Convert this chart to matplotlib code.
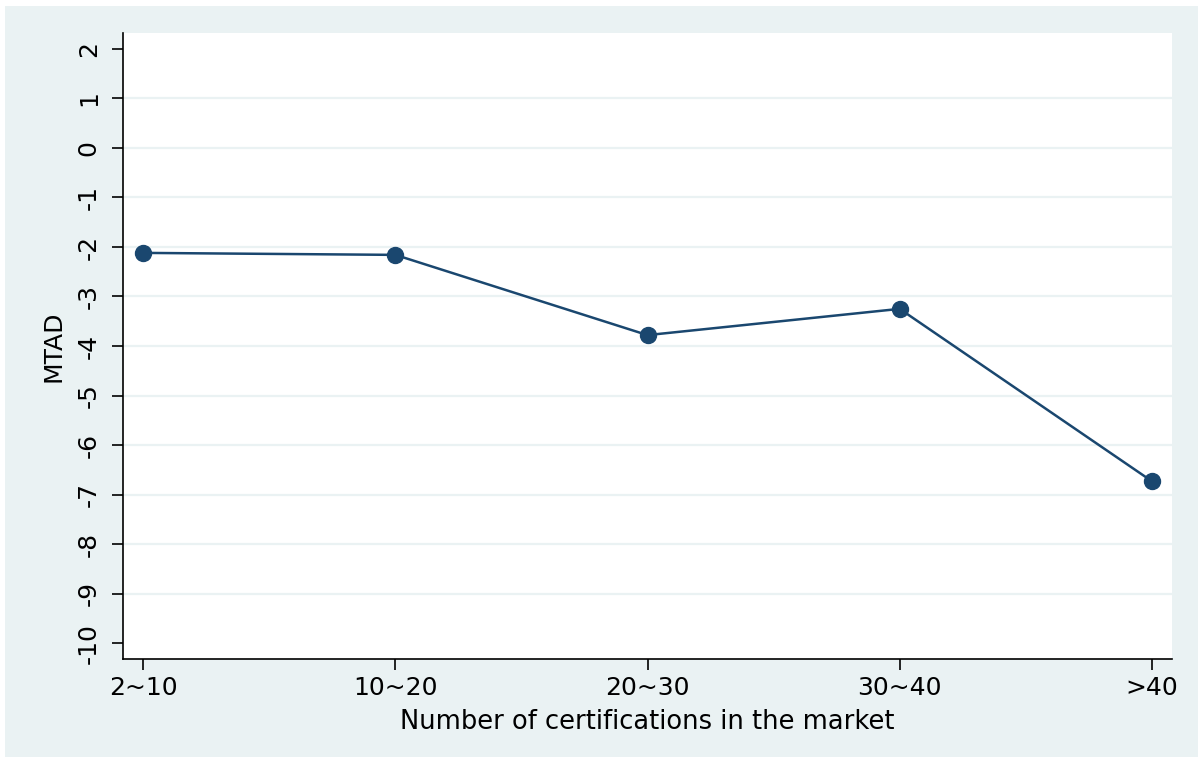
import matplotlib.pyplot as plt
from matplotlib.patches import Rectangle

plt.rcParams['font.family'] = ['DejaVu Sans']

# Data
groups = ['2~10', '10~20', '20~30', '30~40', '>40']
mtad = [-2.12, -2.16, -3.78, -3.25, -6.73]
yticks = list(range(-10, 3))

navy = '#1a476f'
bg = '#eaf2f3'

fig = plt.figure(figsize=(11.98, 7.57), dpi=100, facecolor='white')
fig.patches.append(Rectangle((5 / 1198, 0), 1, 1 - 6 / 757, transform=fig.transFigure,
                             facecolor=bg, edgecolor='none', zorder=-10))
ax = fig.add_axes([123 / 1198, 1 - 659 / 757, (1172 - 123) / 1198, (659 - 33) / 757])
ax.set_facecolor('white')

x = list(range(len(groups)))
ax.plot(x, mtad, color=navy, linewidth=1.8, marker='o', markersize=11.5,
        markerfacecolor=navy, markeredgecolor=navy, zorder=3)

# horizontal grid, not at the extremes
for v in yticks[1:-1]:
    ax.axhline(v, color=bg, linewidth=1.6, zorder=1)

ax.set_xlim(-0.08, 4.08)
ax.set_ylim(-10.32, 2.32)
ax.set_xticks(x)
ax.set_xticklabels(groups)
ax.set_yticks(yticks)
ax.set_yticklabels([str(v) for v in yticks], rotation=90, va='center')

for s in ['top', 'right']:
    ax.spines[s].set_visible(False)
for s in ['left', 'bottom']:
    ax.spines[s].set_linewidth(1.2)
    ax.spines[s].set_color('black')

ax.tick_params(axis='both', direction='out', length=8, width=1.2, labelsize=18, colors='black')
ax.tick_params(axis='y', pad=8)
ax.tick_params(axis='x', pad=4)

ax.set_xlabel('Number of certifications in the market', fontsize=18.5, labelpad=7)
ax.set_ylabel('MTAD', fontsize=18, labelpad=8)

fig.savefig('out.png', dpi=100, facecolor=fig.get_facecolor())
